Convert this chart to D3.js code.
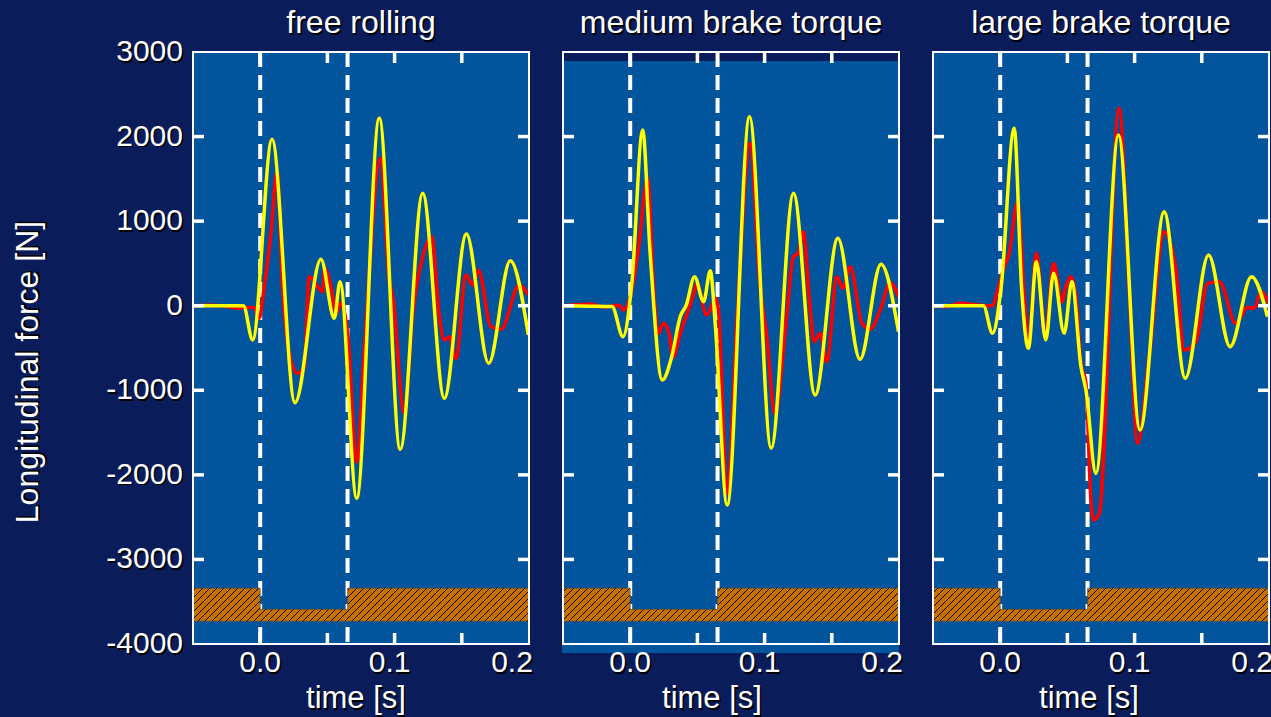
<!DOCTYPE html>
<html>
<head>
<meta charset="utf-8">
<script src="https://cdn.jsdelivr.net/npm/d3@7"></script>
<style>
  html, body { margin: 0; padding: 0; background: #0b1c5b; }
  svg { display: block; }
  text { font-family: "Liberation Sans", Arial, sans-serif; }
</style>
</head>
<body>
<svg id="chart" width="1271" height="717"></svg>
<script>
// ======== Data ========
const panel_titles = ['free rolling', 'medium brake torque', 'large brake torque'];

const y_ticks = [-4000, -3000, -2000, -1000, 0, 1000, 2000, 3000];
const y_tick_labels = ['-4000', '-3000', '-2000', '-1000', '0', '1000', '2000', '3000'];
const x_ticks = [0, 0.05, 0.1, 0.15, 0.2];
const x_label_ticks = [0, 0.1, 0.2];
const x_tick_labels = ['0.0', '0.1', '0.2'];

// contact window (dashed lines) and the hatched road band
const mark_times = [0, 0.065];
const band_low = -3730, band_high = -3340, band_contact = -3590;

// [time s, force N]
const free_red = [[-0.05,0],[-0.035,5],[-0.025,-10],[-0.015,-30],[-0.01,-20],[-0.0045,-20],[-0.0007,-149],[0.003,225],
  [0.008,856],[0.0125,1585],[0.0167,225],[0.0204,-445],[0.0279,-800],[0.0328,-721],[0.0365,343],[0.0465,166],
  [0.0477,442],[0.0527,225],[0.0564,-90],[0.0601,28],[0.0651,-327],[0.0718,-1845],[0.0775,-524],[0.0894,1743],
  [0.0961,304],[0.0986,106],[0.1072,-1272],[0.1135,-90],[0.1209,579],[0.1276,816],[0.1333,-130],[0.137,-406],
  [0.1407,-366],[0.1457,-622],[0.1531,363],[0.1581,245],[0.1623,422],[0.1717,-248],[0.1792,-279],[0.1928,245],[0.1995,127]];
const free_yellow = [[-0.05,0],[-0.0125,0],[-0.0056,-405],[0.0088,1967],[0.0259,-1147],[0.0452,548],[0.0551,-149],
  [0.0594,284],[0.0718,-2277],[0.0886,2216],[0.1042,-1698],[0.1209,1329],[0.137,-1095],[0.1534,848],[0.17,-681],
  [0.1861,532],[0.1995,-346]];

const medium_red = [[-0.05,0],[-0.04,10],[-0.03,20],[-0.02,-15],[-0.012,0],[-0.008,5],[-0.005,-51],[0,106],[0.006,658],
  [0.0129,1506],[0.0179,67],[0.0209,-327],[0.0247,-208],[0.0292,-346],[0.0317,-611],[0.0372,-327],[0.047,126],
  [0.0496,264],[0.0569,-110],[0.0638,87],[0.0655,-30],[0.0721,-2218],[0.0796,-130],[0.0891,1920],[0.0967,225],
  [0.1016,-366],[0.1077,-1272],[0.1164,-130],[0.1214,579],[0.125,620],[0.1288,875],[0.1333,67],[0.1369,-426],
  [0.1414,-327],[0.1463,-662],[0.1538,343],[0.1583,206],[0.1637,461],[0.1724,-208],[0.1786,-279],[0.186,-51],
  [0.1935,272],[0.1996,106]];
const medium_yellow = [[-0.05,0],[-0.03,-5],[-0.0135,-10],[-0.0054,-366],[0.0012,264],[0.0093,2077],[0.0147,658],
  [0.0239,-879],[0.0309,-603],[0.0372,-130],[0.0417,8],[0.0479,343],[0.0546,47],[0.0596,414],[0.0634,-248],
  [0.0721,-2357],[0.0888,2235],[0.1049,-1686],[0.1215,1329],[0.1376,-1056],[0.1545,797],[0.171,-634],
  [0.1866,489],[0.1996,-307]];

const large_red = [[-0.05,0],[-0.04,-10],[-0.03,30],[-0.02,15],[-0.01,0],[-0.0055,0],[-0.0032,106],[0.003,461],
  [0.0067,620],[0.0129,1230],[0.0179,106],[0.021,-445],[0.0269,620],[0.0335,-366],[0.0397,501],[0.0459,47],
  [0.0489,225],[0.0526,343],[0.0563,106],[0.0601,-681],[0.0638,-918],[0.0675,-2300],[0.0695,-2534],[0.0737,-2455],
  [0.0885,2334],[0.096,186],[0.1022,-1627],[0.1109,-603],[0.122,875],[0.1307,422],[0.1369,-524],[0.1456,-426],
  [0.1543,264],[0.163,284],[0.1754,-208],[0.184,-19],[0.189,-31],[0.194,166],[0.2,28]];
const large_yellow = [[-0.05,0],[-0.0125,0],[-0.0057,-327],[0.0005,186],[0.0104,2097],[0.016,186],[0.021,-504],
  [0.0269,520],[0.0339,-406],[0.0397,383],[0.0476,-327],[0.0533,284],[0.0601,-721],[0.0638,-997],[0.0712,-1982],
  [0.088,2018],[0.104,-1470],[0.122,1112],[0.1377,-859],[0.155,600],[0.1711,-485],[0.187,343],[0.1989,-130]];

const red_series = [free_red, medium_red, large_red];
const yellow_series = [free_yellow, medium_yellow, large_yellow];

// ======== Layout ========
const panel_left = [193, 563, 933];
const panel_w = 336;
const top_y = 52, bottom_y = 644;
const bg_shift = [0, 9, 0];          // the middle panel's fill sits a bit low
const xlabel_shift = [-5, -19, -12];
const xtick_dx = [0, -5, -17];

const svg = d3.select('#chart');

// hatch pattern for the road band
const defs = svg.append('defs');
const pat = defs.append('pattern')
    .attr('id', 'hatch')
    .attr('patternUnits', 'userSpaceOnUse')
    .attr('width', 7)
    .attr('height', 7);
pat.append('rect').attr('width', 7).attr('height', 7).attr('fill', '#c87000');
pat.append('path')
    .attr('d', 'M-1,1 l2,-2 M0,7 l7,-7 M6,8 l2,-2')
    .attr('stroke', '#000')
    .attr('stroke-width', 1);

function shadow_text(sel, x, y, str, size, anchor, transform) {
    let g = sel.append('g');
    if (transform) g.attr('transform', transform);
    g.append('text')
        .attr('x', x + 1.5).attr('y', y + 1.5)
        .attr('text-anchor', anchor)
        .attr('font-size', size)
        .attr('fill', '#000')
        .text(str);
    g.append('text')
        .attr('x', x).attr('y', y)
        .attr('text-anchor', anchor)
        .attr('font-size', size)
        .attr('fill', '#fff')
        .text(str);
}

panel_titles.forEach(function (title, i) {
    let x0 = panel_left[i], x1 = x0 + panel_w;
    let x = d3.scaleLinear().domain([-0.05, 0.2]).range([x0, x1]);
    let y = d3.scaleLinear().domain([-4000, 3000]).range([bottom_y, top_y]);

    let g = svg.append('g');

    defs.append('clipPath').attr('id', 'clip' + i)
        .append('rect')
        .attr('x', x0).attr('y', top_y)
        .attr('width', panel_w).attr('height', bottom_y - top_y);

    // panel fill
    g.append('rect')
        .attr('x', x0 - 1)
        .attr('y', top_y + bg_shift[i])
        .attr('width', panel_w + 1)
        .attr('height', bottom_y - top_y)
        .attr('fill', '#02559c');

    // dashed contact window lines
    g.selectAll('line.mark')
        .data(mark_times)
        .enter()
        .append('line')
        .attr('x1', d => x(d)).attr('x2', d => x(d))
        .attr('y1', top_y).attr('y2', bottom_y)
        .attr('stroke', '#fff')
        .attr('stroke-width', 4)
        .attr('stroke-dasharray', '15,8');

    // hatched band, notched between the two marks
    let band = [
        [-0.05, band_high], [mark_times[0], band_high], [mark_times[0], band_contact],
        [mark_times[1], band_contact], [mark_times[1], band_high], [0.2, band_high],
        [0.2, band_low], [-0.05, band_low]
    ];
    g.append('path')
        .attr('d', d3.line().x(d => x(d[0])).y(d => y(d[1]))(band) + 'Z')
        .attr('fill', 'url(#hatch)')
        .attr('stroke', '#5a4a30')
        .attr('stroke-width', 0.6);

    let line = d3.line()
        .x(d => x(d[0]))
        .y(d => y(d[1]))
        .curve(d3.curveMonotoneX);

    let lines = g.append('g').attr('clip-path', 'url(#clip' + i + ')');
    lines.append('path')
        .attr('d', line(red_series[i]))
        .attr('fill', 'none')
        .attr('stroke', '#ff0000')
        .attr('stroke-width', 3.5)
        .attr('stroke-linejoin', 'round');
    lines.append('path')
        .attr('d', line(yellow_series[i]))
        .attr('fill', 'none')
        .attr('stroke', '#ffff00')
        .attr('stroke-width', 3.5)
        .attr('stroke-linejoin', 'round');

    // inward ticks
    let yt = y_ticks.slice(1, -1);
    g.selectAll('line.yl').data(yt).enter().append('line')
        .attr('x1', x0).attr('x2', x0 + 11)
        .attr('y1', d => y(d)).attr('y2', d => y(d))
        .attr('stroke', '#fff').attr('stroke-width', 3.5);
    g.selectAll('line.yr').data(yt).enter().append('line')
        .attr('x1', x1 - 11).attr('x2', x1)
        .attr('y1', d => y(d)).attr('y2', d => y(d))
        .attr('stroke', '#fff').attr('stroke-width', 3.5);
    let xt = x_ticks.slice(0, -1);
    g.selectAll('line.xb').data(xt).enter().append('line')
        .attr('x1', d => x(d)).attr('x2', d => x(d))
        .attr('y1', bottom_y - 11).attr('y2', bottom_y)
        .attr('stroke', '#fff').attr('stroke-width', 3.5);
    g.selectAll('line.xt').data(xt).enter().append('line')
        .attr('x1', d => x(d)).attr('x2', d => x(d))
        .attr('y1', top_y).attr('y2', top_y + 11)
        .attr('stroke', '#fff').attr('stroke-width', 3.5);

    // frame
    g.append('rect')
        .attr('x', x0).attr('y', top_y)
        .attr('width', panel_w).attr('height', bottom_y - top_y)
        .attr('fill', 'none')
        .attr('stroke', '#fff')
        .attr('stroke-width', 2);

    // texts
    shadow_text(g, (x0 + x1) / 2, 33, title, 32, 'middle');
    x_label_ticks.forEach(function (v, j) {
        shadow_text(g, x(v) + xtick_dx[j], 672, x_tick_labels[j], 30, 'middle');
    });
    shadow_text(g, (x0 + x1) / 2 + xlabel_shift[i], 708, 'time [s]', 31, 'middle');

    if (i === 0) {
        y_ticks.forEach(function (v, j) {
            shadow_text(g, x0 - 10, y(v) + 9, y_tick_labels[j], 30, 'end');
        });
    }
});

shadow_text(svg, 0, 0, 'Longitudinal force [N]', 32, 'middle', 'translate(38,372) rotate(-90)');
</script>
</body>
</html>
